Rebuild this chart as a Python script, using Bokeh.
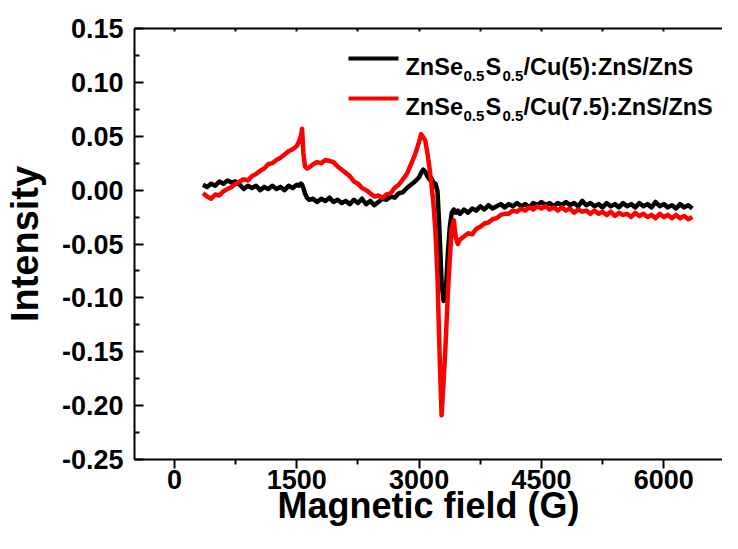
from bokeh.plotting import figure
from bokeh.models import Range1d, LinearAxis, FixedTicker, Label, Arrow, NumeralTickFormatter
from bokeh.embed import file_html
from bokeh.resources import INLINE

# ---------------- data ----------------
field = [350, 400, 450, 500, 550, 600, 650, 700, 750, 800, 850, 900, 950, 1000,
         1050, 1100, 1150, 1200, 1250, 1300, 1350, 1400, 1450, 1500,
         1525, 1550, 1565, 1580, 1600, 1625,
         1650, 1700, 1750, 1800, 1850, 1900, 1950, 2000, 2050, 2100, 2150, 2200,
         2250, 2300, 2350, 2400, 2450, 2500, 2550, 2600, 2650, 2700, 2750, 2800,
         2850, 2900, 2950,
         3000, 3025, 3050, 3075, 3100, 3125, 3150, 3175, 3200, 3225, 3250, 3275,
         3300, 3325, 3350, 3375, 3400, 3425, 3450, 3475, 3500,
         3550, 3600, 3650, 3700, 3750, 3800, 3850, 3900, 3950, 4000,
         4050, 4100, 4150, 4200, 4250, 4300, 4350, 4400, 4450, 4500,
         4550, 4600, 4650, 4700, 4750, 4800, 4850, 4900, 4950, 5000,
         5050, 5100, 5150, 5200, 5250, 5300, 5350, 5400, 5450, 5500,
         5550, 5600, 5650, 5700, 5750, 5800, 5850, 5900, 5950, 6000,
         6050, 6100, 6150, 6200, 6250, 6300, 6350]

cu5 = [0.005, 0.003, 0.006, 0.004, 0.008, 0.006, 0.009, 0.007, 0.008, 0.005, 0.001, 0.004,
       0.002, 0.004, 0.000, 0.003, 0.001, 0.004, 0.001, 0.003, 0.000, 0.004, 0.002, 0.005,
       0.004, 0.006, 0.005, 0.002, -0.003, -0.007,
       -0.009, -0.008, -0.011, -0.008, -0.010, -0.007, -0.011, -0.009, -0.012, -0.010,
       -0.013, -0.009, -0.012, -0.008, -0.013, -0.010, -0.014, -0.011, -0.008, -0.009,
       -0.006, -0.007, -0.003, -0.002, 0.002, 0.005, 0.008,
       0.012, 0.016, 0.019, 0.017, 0.013, 0.010, 0.011, 0.007, 0.006, -0.001, -0.038,
       -0.085, -0.103, -0.097, -0.062, -0.035, -0.021, -0.018, -0.021, -0.019, -0.022,
       -0.018, -0.021, -0.017, -0.019, -0.015, -0.018, -0.014, -0.017, -0.015, -0.013,
       -0.016, -0.013, -0.015, -0.012, -0.015, -0.013, -0.016, -0.012, -0.014, -0.011,
       -0.014, -0.012, -0.015, -0.012, -0.014, -0.011, -0.014, -0.012, -0.015, -0.010,
       -0.014, -0.012, -0.015, -0.013, -0.016, -0.012, -0.015, -0.013, -0.016, -0.012,
       -0.015, -0.013, -0.016, -0.012, -0.015, -0.013, -0.016, -0.011, -0.015, -0.013,
       -0.016, -0.014, -0.017, -0.013, -0.016, -0.014, -0.017]

cu75 = [-0.003, -0.006, -0.008, -0.004, -0.005, -0.001, 0.001, 0.003, 0.006, 0.008, 0.010,
        0.009, 0.013, 0.015, 0.018, 0.020, 0.024, 0.025, 0.028, 0.030, 0.033, 0.036, 0.038,
        0.041,
        0.045, 0.050, 0.057, 0.035, 0.022, 0.020,
        0.021, 0.024, 0.026, 0.025, 0.028, 0.027, 0.026, 0.022, 0.019, 0.016, 0.013, 0.008,
        0.006, 0.002, 0.000, -0.003, -0.006, -0.005, -0.007, -0.004, -0.003, 0.002, 0.005,
        0.010, 0.015, 0.024, 0.033,
        0.045, 0.052, 0.049, 0.046, 0.035, 0.022, 0.006, -0.012, -0.038, -0.080, -0.150,
        -0.209, -0.178, -0.142, -0.100, -0.065, -0.035, -0.028, -0.044, -0.050, -0.046,
        -0.043, -0.040, -0.041, -0.036, -0.034, -0.031, -0.030, -0.027, -0.026, -0.023,
        -0.022, -0.022, -0.019, -0.020, -0.017, -0.019, -0.016, -0.018, -0.015, -0.017,
        -0.015, -0.018, -0.016, -0.019, -0.016, -0.019, -0.017, -0.021, -0.018, -0.020,
        -0.019, -0.022, -0.019, -0.022, -0.020, -0.023, -0.020, -0.024, -0.021, -0.023,
        -0.022, -0.025, -0.021, -0.024, -0.022, -0.025, -0.023, -0.026, -0.022, -0.025,
        -0.023, -0.026, -0.023, -0.026, -0.024, -0.027, -0.025]

series_colors = ["#000000", "#ff0000"]
legend_main = ["ZnSe", "ZnSe"]
legend_sub = ["0.5", "0.5"]
legend_mid = ["S", "S"]
legend_tail = ["/Cu(5):ZnS/ZnS", "/Cu(7.5):ZnS/ZnS"]

x_ticks = [0, 1500, 3000, 4500, 6000]
x_minor = [750, 2250, 3750, 5250, 6750]
y_ticks = [-0.25, -0.20, -0.15, -0.10, -0.05, 0.00, 0.05, 0.10, 0.15]
y_minor = [-0.225, -0.175, -0.125, -0.075, -0.025, 0.025, 0.075, 0.125]

x_label = "Magnetic field (G)"
y_label = "Intensity"

# ---------------- layout ----------------
W, H = 722, 533
FL, FR, FT, FB = 134, 722, 28, 459      # frame edges in canvas pixels
X0, X1 = -490, 6720
Y0, Y1 = -0.25, 0.15
FONT = "Liberation Sans"

p = figure(width=W, height=H, output_backend="svg", toolbar_location=None,
           x_range=Range1d(X0, X1), y_range=Range1d(Y0, Y1),
           min_border_left=FL, min_border_right=W - FR, min_border_top=FT,
           min_border_bottom=H - FB, x_axis_type=None, y_axis_type=None)
p.outline_line_color = None
p.background_fill_color = "white"
p.border_fill_color = "white"

def style(ax):
    ax.axis_line_width = 2
    ax.major_tick_line_width = 2
    ax.minor_tick_line_width = 2
    ax.axis_line_color = "black"
    ax.major_tick_line_color = "black"
    ax.minor_tick_line_color = "black"
    ax.major_label_text_font = FONT
    ax.major_label_text_font_style = "bold"
    ax.major_label_text_font_size = "27px"
    ax.major_label_text_color = "black"
    ax.axis_label_text_font = FONT
    ax.axis_label_text_font_style = "bold"
    ax.axis_label_text_color = "black"

xb = LinearAxis(ticker=FixedTicker(ticks=x_ticks, minor_ticks=x_minor), axis_label=x_label)
style(xb)
xb.axis_label_text_font_size = "36px"
xb.major_tick_out = 9
xb.major_tick_in = 0
xb.minor_tick_out = 5
xb.minor_tick_in = 0
xb.major_label_standoff = 1
xb.axis_label_standoff = -7
p.add_layout(xb, "below")

# top spine: only small inward tick marks, no labels
xt = LinearAxis(ticker=FixedTicker(ticks=[], minor_ticks=x_ticks + x_minor))
style(xt)
xt.major_tick_out = 0
xt.major_tick_in = 0
xt.minor_tick_out = 0
xt.minor_tick_in = 3
xt.major_label_standoff = 0
p.add_layout(xt, "above")

yl = LinearAxis(ticker=FixedTicker(ticks=y_ticks, minor_ticks=y_minor), axis_label=y_label,
                formatter=NumeralTickFormatter(format="0.00"))
style(yl)
yl.axis_label_text_font_size = "38px"
yl.major_tick_out = 0
yl.major_tick_in = 9
yl.minor_tick_out = 0
yl.minor_tick_in = 5
yl.major_label_standoff = 11
yl.axis_label_standoff = 13
p.add_layout(yl, "left")

p.xgrid.visible = False
p.ygrid.visible = False

p.line(field, cu5, line_color=series_colors[0], line_width=4.5, line_join="round")
p.line(field, cu75, line_color=series_colors[1], line_width=4.5, line_join="round")

# ---------------- legend (hand-built so the subscripts can be drawn) ----------------
def dx(px):
    return X0 + (px - FL) * (X1 - X0) / (FR - FL)
def dy(py):
    return Y1 - (py - FT) * (Y1 - Y0) / (FB - FT)

rows_line_y = [58, 98]
rows_base_y = [66, 106]
for i in range(2):
    p.add_layout(Arrow(end=None, x_start=dx(348), x_end=dx(398),
                       y_start=dy(rows_line_y[i]), y_end=dy(rows_line_y[i]),
                       line_color=series_colors[i], line_width=4))
    pieces = [(legend_main[i], 405, "23.5px", 0), (legend_sub[i], 463, "15px", 9),
              (legend_mid[i], 485, "23.5px", 0), (legend_sub[i], 502, "15px", 9),
              (legend_tail[i], 523, "23.5px", 0)]
    for txt, px, fs, off in pieces:
        p.add_layout(Label(x=dx(px), y=dy(rows_base_y[i] + off), text=txt,
                           text_font=FONT, text_font_style="bold", text_font_size=fs,
                           text_color="black", text_baseline="alphabetic",
                           text_align="left"))

open("out.html", "w").write(file_html(p, INLINE))
